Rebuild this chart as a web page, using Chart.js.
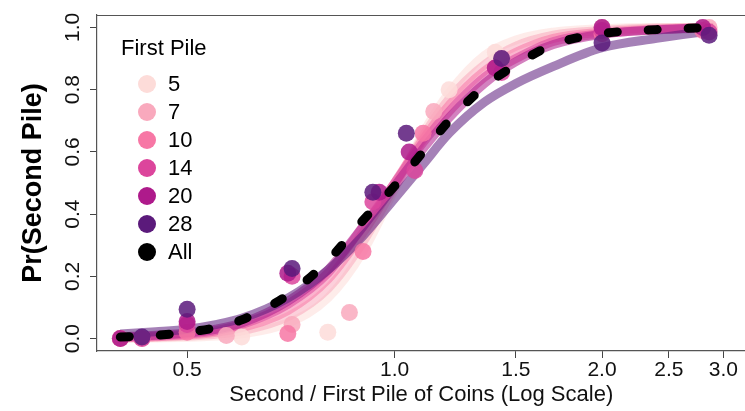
<!DOCTYPE html>
<html>
<head>
<meta charset="utf-8">
<script src="https://cdn.jsdelivr.net/npm/chart.js@4/dist/chart.umd.min.js"></script>
<style>
  html, body { margin: 0; padding: 0; background: #fff; overflow: hidden; }
  canvas { display: block; }
</style>
</head>
<body>
<canvas id="chart" width="754" height="411"></canvas>
<script>
const FONT = '"Liberation Sans", Arial, sans-serif';

const pileNames = ['5', '7', '10', '14', '20', '28'];
const pileColors = ['#fddcd9', '#f9a9bd', '#f777a5', '#dc459c', '#ae1a8b', '#5b1a7b'];

const xTicks = [0.5, 1.0, 1.5, 2.0, 2.5, 3.0];
const yTicks = [0.0, 0.2, 0.4, 0.6, 0.8, 1.0];

// observed proportions, one pair of arrays per first pile
const ratio5 = [0.4, 0.6, 0.8, 1.2, 1.4, 2.0, 2.8];
const prop5 = [0.0, 0.005, 0.02, 0.80, 0.92, 1.0, 1.0];
const ratio7 = [0.43, 0.57, 0.71, 0.86, 1.14, 1.43, 2.0, 2.86];
const prop7 = [0.0, 0.01, 0.045, 0.084, 0.73, 0.90, 1.0, 1.0];
const ratio10 = [0.4, 0.5, 0.7, 0.9, 1.1, 1.4, 2.0, 2.8];
const prop10 = [0.0, 0.02, 0.016, 0.28, 0.66, 0.87, 0.98, 0.99];
const ratio14 = [0.43, 0.5, 0.71, 0.93, 1.07, 1.43, 2.0, 2.86];
const prop14 = [0.0, 0.045, 0.2, 0.44, 0.54, 0.855, 0.99, 0.985];
const ratio20 = [0.4, 0.5, 0.7, 0.95, 1.05, 1.4, 2.0, 2.8];
const prop20 = [0.0, 0.055, 0.21, 0.47, 0.60, 0.87, 1.0, 1.0];
const ratio28 = [0.43, 0.5, 0.71, 0.93, 1.04, 1.43, 2.0, 2.86];
const prop28 = [0.005, 0.094, 0.225, 0.47, 0.66, 0.90, 0.95, 0.975];

// fitted curves, read at these ratios
const curveX = [0.4, 0.45, 0.5, 0.55, 0.6, 0.7, 0.8, 0.9, 1.0, 1.1, 1.2, 1.35, 1.5, 1.7, 2.0, 2.4, 2.9];
const fit5 = [0.001, 0.002, 0.004, 0.008, 0.015, 0.05, 0.13, 0.28, 0.48, 0.66, 0.79, 0.91, 0.96, 0.985, 0.996, 1.0, 1.0];
const fit7 = [0.002, 0.004, 0.008, 0.014, 0.025, 0.07, 0.16, 0.31, 0.49, 0.65, 0.77, 0.88, 0.94, 0.975, 0.99, 0.998, 1.0];
const fit10 = [0.003, 0.006, 0.011, 0.02, 0.035, 0.09, 0.19, 0.34, 0.5, 0.64, 0.75, 0.86, 0.92, 0.965, 0.985, 0.995, 1.0];
const fit14 = [0.004, 0.008, 0.014, 0.025, 0.045, 0.11, 0.21, 0.36, 0.5, 0.63, 0.73, 0.84, 0.9, 0.955, 0.98, 0.993, 0.999];
const fit20 = [0.006, 0.011, 0.018, 0.03, 0.05, 0.12, 0.22, 0.36, 0.49, 0.61, 0.71, 0.82, 0.89, 0.945, 0.978, 0.992, 0.998];
const fit28 = [0.015, 0.022, 0.03, 0.045, 0.065, 0.13, 0.22, 0.33, 0.45, 0.56, 0.66, 0.76, 0.82, 0.875, 0.935, 0.965, 0.99];
const fitAll = [0.005, 0.01, 0.02, 0.035, 0.06, 0.14, 0.25, 0.38, 0.49, 0.60, 0.70, 0.81, 0.88, 0.945, 0.98, 0.993, 1.0];

const ratios = [ratio5, ratio7, ratio10, ratio14, ratio20, ratio28];
const props = [prop5, prop7, prop10, prop14, prop20, prop28];
const fits = [fit5, fit7, fit10, fit14, fit20, fit28];

function alpha(hex, a) {
	const n = parseInt(hex.slice(1), 16);
	return `rgba(${(n >> 16) & 255}, ${(n >> 8) & 255}, ${n & 255}, ${a})`;
}

function toPoints(xs, ys) {
	return xs.map((x, i) => ({ x: x, y: ys[i] }));
}

const datasets = [];
fits.forEach((fit, i) => {
	datasets.push({
		label: 'fit ' + pileNames[i],
		data: toPoints(curveX, fit),
		showLine: true,
		borderColor: alpha(pileColors[i], 0.55),
		borderWidth: 9,
		pointRadius: 0,
		cubicInterpolationMode: 'monotone',
		order: 30 - i,
	});
});
props.forEach((prop, i) => {
	datasets.push({
		label: pileNames[i],
		data: toPoints(ratios[i], prop),
		backgroundColor: alpha(pileColors[i], 0.85),
		borderWidth: 0,
		pointRadius: 8.5,
		order: 20 - i,
	});
});
datasets.push({
	label: 'All',
	data: toPoints(curveX, fitAll),
	showLine: true,
	borderColor: '#000',
	borderWidth: 9,
	borderDash: [9, 31],
	borderCapStyle: 'round',
	pointRadius: 0,
	cubicInterpolationMode: 'monotone',
	order: 0,
});

const frame = {
	id: 'frame',
	afterDraw(chart) {
		const { ctx, chartArea } = chart;
		const yScale = chart.scales.y;
		ctx.save();
		// top edge of the box
		ctx.strokeStyle = '#555';
		ctx.lineWidth = 1.2;
		ctx.beginPath();
		ctx.moveTo(chartArea.left, chartArea.top + 0.5);
		ctx.lineTo(chartArea.right, chartArea.top + 0.5);
		ctx.stroke();

		// y tick labels, parallel to the axis
		ctx.fillStyle = '#111';
		ctx.font = '21px ' + FONT;
		ctx.textAlign = 'center';
		ctx.textBaseline = 'middle';
		yTicks.forEach(v => {
			ctx.save();
			ctx.translate(73, yScale.getPixelForValue(v));
			ctx.rotate(-Math.PI / 2);
			ctx.fillText(v.toFixed(1), 0, 0);
			ctx.restore();
		});

		// legend
		const lx = chartArea.left + 24;
		const ly = chartArea.top + 34;
		ctx.textAlign = 'left';
		ctx.font = '22px ' + FONT;
		ctx.fillStyle = '#000';
		ctx.fillText('First Pile', lx, ly);
		const names = pileNames.concat(['All']);
		const colors = pileColors.concat(['#000000']);
		names.forEach((name, i) => {
			const y = ly + 35 + i * 28;
			ctx.beginPath();
			ctx.arc(lx + 26, y, 9, 0, Math.PI * 2);
			ctx.fillStyle = colors[i];
			ctx.fill();
			ctx.fillStyle = '#000';
			ctx.fillText(name, lx + 47, y + 1);
		});
		ctx.restore();
	},
};

new Chart(document.getElementById('chart'), {
	type: 'scatter',
	data: { datasets: datasets },
	plugins: [frame],
	options: {
		responsive: false,
		animation: false,
		devicePixelRatio: 1,
		events: [],
		layout: { padding: { top: 15, right: 0, left: 0, bottom: 0 } },
		plugins: { legend: { display: false }, tooltip: { enabled: false } },
		scales: {
			x: {
				type: 'logarithmic',
				min: 0.37,
				max: 3.23,
				afterBuildTicks: axis => {
					axis.ticks = xTicks.map(v => ({ value: v }));
				},
				afterFit: axis => {
					axis.height = 60;
				},
				grid: { drawOnChartArea: false, tickLength: 7, color: '#444' },
				border: { display: true, color: '#555', width: 1.2 },
				ticks: {
					color: '#111',
					font: { family: FONT, size: 21 },
					padding: 0,
					maxRotation: 0,
					autoSkip: false,
					callback: v => Number(v).toFixed(1),
				},
				title: {
					display: true,
					text: 'Second / First Pile of Coins (Log Scale)',
					color: '#111',
					font: { family: FONT, size: 22 },
					padding: { top: 0, bottom: 3 },
				},
			},
			y: {
				min: -0.04,
				max: 1.04,
				afterBuildTicks: axis => {
					axis.ticks = yTicks.map(v => ({ value: v }));
				},
				afterFit: axis => {
					axis.width = 97;
				},
				grid: { drawOnChartArea: false, tickLength: 7, color: '#444' },
				border: { display: true, color: '#555', width: 1.2 },
				ticks: { display: false },
				title: {
					display: true,
					text: 'Pr(Second Pile)',
					color: '#000',
					font: { family: FONT, size: 27, weight: 'bold' },
					padding: { top: 17, bottom: 0 },
				},
			},
		},
	},
});
</script>
</body>
</html>
